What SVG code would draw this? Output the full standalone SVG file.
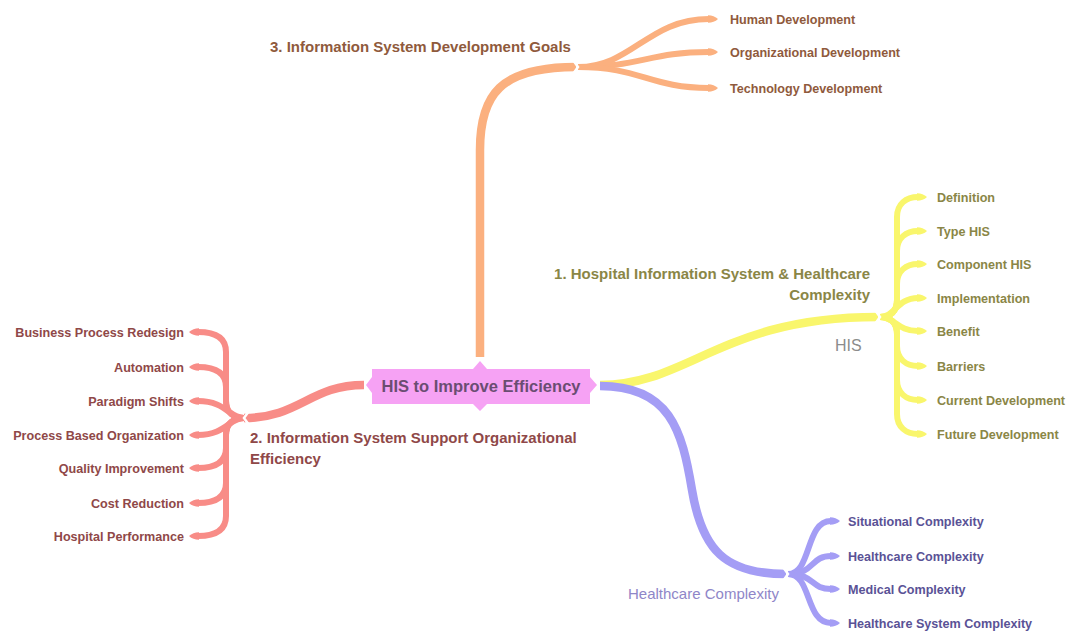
<svg xmlns="http://www.w3.org/2000/svg" width="1069" height="631" viewBox="0 0 1069 631">
<style>
.br{fill:none;stroke-linecap:butt;stroke-linejoin:round}
.main{stroke-width:8.5}
.sub{stroke-width:6}
.or{stroke:#fbb07f}.ye{stroke:#f9f66c}.pu{stroke:#a49df5}.re{stroke:#f88c87}
.notch{fill:none;stroke:#fff;stroke-width:2.5}
text{font-family:"Liberation Sans",Arial,sans-serif}
.leaf{font-size:12.6px;font-weight:bold}
.lbl{font-size:15px;font-weight:bold}
.tOr{fill:#8f5a3c}.tYe{fill:#8a8646}.tPu{fill:#5a5296}.tRe{fill:#8f4848}
</style>
<defs>
<marker id="mOr" viewBox="0 0 10 10" refX="1" refY="5" markerWidth="10" markerHeight="10" markerUnits="userSpaceOnUse" orient="auto"><path d="M0,1.2 Q6,1.2 10,5 Q6,8.8 0,8.8 Z" fill="#fbb07f"/></marker>
<marker id="mYe" viewBox="0 0 10 10" refX="1" refY="5" markerWidth="10" markerHeight="10" markerUnits="userSpaceOnUse" orient="auto"><path d="M0,1.2 Q6,1.2 10,5 Q6,8.8 0,8.8 Z" fill="#f9f66c"/></marker>
<marker id="mPu" viewBox="0 0 10 10" refX="1" refY="5" markerWidth="10" markerHeight="10" markerUnits="userSpaceOnUse" orient="auto"><path d="M0,1.2 Q6,1.2 10,5 Q6,8.8 0,8.8 Z" fill="#a49df5"/></marker>
<marker id="mRe" viewBox="0 0 10 10" refX="1" refY="5" markerWidth="10" markerHeight="10" markerUnits="userSpaceOnUse" orient="auto"><path d="M0,1.2 Q6,1.2 10,5 Q6,8.8 0,8.8 Z" fill="#f88c87"/></marker>
</defs>
<rect width="1069" height="631" fill="#fff"/>
<g id="connectors">
<!-- orange: goals -->
<path class="br main or" d="M480,357 L480,150 C480,95 500,67 576,67"/>
<path class="br sub or" marker-end="url(#mOr)" d="M578,67 C632,67 648,19 709,19"/>
<path class="br sub or" marker-end="url(#mOr)" d="M578,67 C640,67 650,52 709,52"/>
<path class="br sub or" marker-end="url(#mOr)" d="M578,67 C640,67 650,88 709,88"/>
<path class="notch" d="M573,60 L578,67 L573,74"/>
<!-- yellow: HIS -->
<path class="br main ye" d="M600,385 C690,385 720,317 878,317"/>
<path class="br sub ye" marker-end="url(#mYe)" d="M880,317 C890,317 897,312 897,300 L897,217 C897,204 906,197 918,197"/>
<path class="br sub ye" marker-end="url(#mYe)" d="M880,317 C890,317 897,312 897,300 L897,251 C897,238 906,231 918,231"/>
<path class="br sub ye" marker-end="url(#mYe)" d="M880,317 C890,317 897,312 897,300 L897,284 C897,271 906,264 918,264"/>
<path class="br sub ye" marker-end="url(#mYe)" d="M880,317 C895,317 897,298 918,298"/>
<path class="br sub ye" marker-end="url(#mYe)" d="M880,317 C895,317 897,331 918,331"/>
<path class="br sub ye" marker-end="url(#mYe)" d="M880,317 C890,317 897,322 897,334 L897,346 C897,359 906,366 918,366"/>
<path class="br sub ye" marker-end="url(#mYe)" d="M880,317 C890,317 897,322 897,334 L897,380 C897,393 906,400 918,400"/>
<path class="br sub ye" marker-end="url(#mYe)" d="M880,317 C890,317 897,322 897,334 L897,414 C897,427 906,434 918,434"/>
<path class="notch" d="M875,310 L880,317 L875,324"/>
<!-- purple: healthcare complexity -->
<path class="br main pu" d="M600,386 C670,386 682,430 692,490 C702,550 725,574 786,574"/>
<path class="br sub pu" marker-end="url(#mPu)" d="M788,574 C812,574 805,521 831,521"/>
<path class="br sub pu" marker-end="url(#mPu)" d="M788,574 C815,574 810,556 831,556"/>
<path class="br sub pu" marker-end="url(#mPu)" d="M788,574 C815,574 810,589 831,589"/>
<path class="br sub pu" marker-end="url(#mPu)" d="M788,574 C812,574 805,623 831,623"/>
<path class="notch" d="M783,567 L788,574 L783,581"/>
<!-- red: organizational efficiency -->
<path class="br main re" d="M364,385 C310,385 300,418 244,418"/>
<path class="br sub re" marker-end="url(#mRe)" d="M244,418 C234,418 226,413 226,401 L226,352 C226,339 217,332 198,332"/>
<path class="br sub re" marker-end="url(#mRe)" d="M244,418 C234,418 226,413 226,401 L226,387 C226,374 217,367 198,367"/>
<path class="br sub re" marker-end="url(#mRe)" d="M244,418 C229,418 226,401 198,401"/>
<path class="br sub re" marker-end="url(#mRe)" d="M244,418 C229,418 226,435 198,435"/>
<path class="br sub re" marker-end="url(#mRe)" d="M244,418 C234,418 226,423 226,435 L226,448 C226,461 217,468 198,468"/>
<path class="br sub re" marker-end="url(#mRe)" d="M244,418 C234,418 226,423 226,435 L226,483 C226,496 217,503 198,503"/>
<path class="br sub re" marker-end="url(#mRe)" d="M244,418 C234,418 226,423 226,435 L226,516 C226,529 217,536 198,536"/>
<path class="notch" d="M249,411 L244,418 L249,425"/>
</g>
<g id="center">
<path d="M372,369 L473,369 L480,361 L487,369 L590,369 L590,377 L597,385 L590,393 L590,404 L487,404 L480,411 L473,404 L372,404 L372,393 L366,385 L372,377 Z" fill="#f6a2f4"/>
<text x="481" y="392" text-anchor="middle" font-size="16.5" font-weight="bold" fill="#6a4d72">HIS to Improve Efficiency</text>
</g>
<g id="goals">
<text class="lbl tOr" x="270" y="52">3. Information System Development Goals</text>
</g>
<g id="goal-human"><text class="leaf tOr" x="730" y="24">Human Development</text></g>
<g id="goal-org"><text class="leaf tOr" x="730" y="57">Organizational Development</text></g>
<g id="goal-tech"><text class="leaf tOr" x="730" y="93">Technology Development</text></g>
<g id="his">
<text class="lbl tYe" x="870" y="279" text-anchor="end">1. Hospital Information System &amp; Healthcare</text>
<text class="lbl tYe" x="870" y="300" text-anchor="end">Complexity</text>
<text x="835" y="351" font-size="16" fill="#8c8c8c">HIS</text>
</g>
<g id="his-def"><text class="leaf tYe" x="937" y="202">Definition</text></g>
<g id="his-type"><text class="leaf tYe" x="937" y="236">Type HIS</text></g>
<g id="his-comp"><text class="leaf tYe" x="937" y="269">Component HIS</text></g>
<g id="his-impl"><text class="leaf tYe" x="937" y="303">Implementation</text></g>
<g id="his-benefit"><text class="leaf tYe" x="937" y="336">Benefit</text></g>
<g id="his-barriers"><text class="leaf tYe" x="937" y="371">Barriers</text></g>
<g id="his-current"><text class="leaf tYe" x="937" y="405">Current Development</text></g>
<g id="his-future"><text class="leaf tYe" x="937" y="439">Future Development</text></g>
<g id="complexity">
<text x="628" y="599" font-size="15" fill="#8f86c8">Healthcare Complexity</text>
</g>
<g id="cx-situational"><text class="leaf tPu" x="848" y="526">Situational Complexity</text></g>
<g id="cx-healthcare"><text class="leaf tPu" x="848" y="561">Healthcare Complexity</text></g>
<g id="cx-medical"><text class="leaf tPu" x="848" y="594">Medical Complexity</text></g>
<g id="cx-system"><text class="leaf tPu" x="848" y="628">Healthcare System Complexity</text></g>
<g id="efficiency">
<text class="lbl tRe" x="250" y="443">2. Information System Support Organizational</text>
<text class="lbl tRe" x="250" y="464">Efficiency</text>
</g>
<g id="ef-bpr"><text class="leaf tRe" x="184" y="337" text-anchor="end">Business Process Redesign</text></g>
<g id="ef-auto"><text class="leaf tRe" x="184" y="372" text-anchor="end">Automation</text></g>
<g id="ef-paradigm"><text class="leaf tRe" x="184" y="406" text-anchor="end">Paradigm Shifts</text></g>
<g id="ef-process"><text class="leaf tRe" x="184" y="440" text-anchor="end">Process Based Organization</text></g>
<g id="ef-quality"><text class="leaf tRe" x="184" y="473" text-anchor="end">Quality Improvement</text></g>
<g id="ef-cost"><text class="leaf tRe" x="184" y="508" text-anchor="end">Cost Reduction</text></g>
<g id="ef-hospital"><text class="leaf tRe" x="184" y="541" text-anchor="end">Hospital Performance</text></g>
</svg>
